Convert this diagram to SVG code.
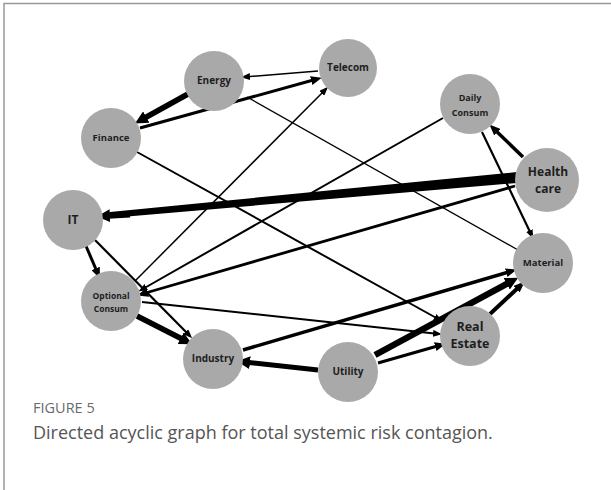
<svg xmlns="http://www.w3.org/2000/svg" width="611" height="490" viewBox="0 0 611 490">
<style>
.e{stroke:#000;fill:none;stroke-linecap:butt}
.n{fill:#a9a9a9}
.t{font-family:"Open Sans","Liberation Sans",sans-serif;font-weight:bold;fill:#1e1e1e;text-anchor:middle}
.cap1{font-family:"Open Sans","Liberation Sans",sans-serif;font-size:14.5px;fill:#6a6a6a}
.cap2{font-family:"Open Sans","Liberation Sans",sans-serif;font-size:18px;fill:#555}
</style>
<defs>
<marker id="aS" markerUnits="userSpaceOnUse" markerWidth="9" markerHeight="7" refX="6" refY="3.5" orient="auto"><path d="M0,0 L9,3.5 L0,7 z" fill="#000"/></marker>
<marker id="aM" markerUnits="userSpaceOnUse" markerWidth="11" markerHeight="9" refX="6" refY="4.5" orient="auto"><path d="M0,0 L11,4.5 L0,9 z" fill="#000"/></marker>
<marker id="aL" markerUnits="userSpaceOnUse" markerWidth="13" markerHeight="13" refX="6" refY="6.5" orient="auto"><path d="M0,0 L13,6.5 L0,13 z" fill="#000"/></marker>
</defs>
<rect x="0" y="0" width="611" height="490" fill="#fff"/>
<path d="M4,490 V3.5 H611" fill="none" stroke="#999" stroke-width="1.5"/>
<g id="connectors">
<line class="e" x1="318" y1="71" x2="244" y2="77" stroke-width="1.5" marker-end="url(#aS)"/>
<line class="e" x1="140" y1="128" x2="317" y2="79" stroke-width="3" marker-end="url(#aM)"/>
<line class="e" x1="188" y1="94" x2="141" y2="120" stroke-width="5.5" marker-end="url(#aL)"/>
<line class="e" x1="247" y1="97" x2="518" y2="250" stroke-width="1.3"/>
<line class="e" x1="137" y1="152" x2="440" y2="320" stroke-width="2" marker-end="url(#aS)"/>
<polygon points="517,172 517,183 110,218 110,212" fill="#000"/>
<line class="e" x1="130" y1="214.5" x2="104" y2="216" stroke-width="6" marker-end="url(#aL)"/>
<line class="e" x1="523" y1="157" x2="493" y2="128" stroke-width="3.5" marker-end="url(#aM)"/>
<line class="e" x1="482" y1="132" x2="532" y2="236" stroke-width="2.2" marker-end="url(#aS)"/>
<line class="e" x1="443" y1="118" x2="141" y2="290" stroke-width="2" marker-end="url(#aS)"/>
<line class="e" x1="515" y1="186" x2="142" y2="294" stroke-width="2.8" marker-end="url(#aM)"/>
<line class="e" x1="135" y1="281" x2="326" y2="89" stroke-width="1.5" marker-end="url(#aS)"/>
<line class="e" x1="142" y1="302" x2="439" y2="334" stroke-width="2" marker-end="url(#aS)"/>
<line class="e" x1="137" y1="316" x2="186" y2="341" stroke-width="5.5" marker-end="url(#aL)"/>
<line class="e" x1="86" y1="246" x2="98" y2="274" stroke-width="3" marker-end="url(#aM)"/>
<line class="e" x1="95" y1="240" x2="190" y2="336" stroke-width="2.2" marker-end="url(#aS)"/>
<line class="e" x1="318" y1="370" x2="244" y2="362" stroke-width="5" marker-end="url(#aL)"/>
<line class="e" x1="375" y1="355" x2="512" y2="281" stroke-width="6.5" marker-end="url(#aL)"/>
<line class="e" x1="378" y1="363" x2="441" y2="345" stroke-width="3" marker-end="url(#aM)"/>
<line class="e" x1="490" y1="314" x2="521" y2="285" stroke-width="4" marker-end="url(#aM)"/>
<line class="e" x1="243" y1="350" x2="512" y2="271" stroke-width="3.5" marker-end="url(#aM)"/>
</g>
<g id="energy"><circle class="n" cx="214" cy="81" r="30"/><text class="t" x="214" y="84" font-size="10">Energy</text></g>
<g id="telecom"><circle class="n" cx="348" cy="68" r="29"/><text class="t" x="348" y="71" font-size="10">Telecom</text></g>
<g id="finance"><circle class="n" cx="111" cy="138" r="30"/><text class="t" x="111" y="141" font-size="9.5">Finance</text></g>
<g id="daily"><circle class="n" cx="470" cy="104" r="30"/><text class="t" x="470" y="101" font-size="9">Daily</text><text class="t" x="470" y="116" font-size="9">Consum</text></g>
<g id="health"><circle class="n" cx="547" cy="180" r="32"/><text class="t" x="548" y="176" font-size="12">Health</text><text class="t" x="548" y="193" font-size="12">care</text></g>
<g id="it"><circle class="n" cx="73" cy="220" r="30"/><text class="t" x="73" y="224" font-size="12">IT</text></g>
<g id="material"><circle class="n" cx="543" cy="263" r="30"/><text class="t" x="543" y="266" font-size="9.5">Material</text></g>
<g id="optional"><circle class="n" cx="111" cy="301" r="30"/><text class="t" x="111" y="299" font-size="8.5">Optional</text><text class="t" x="111" y="312" font-size="8.5">Consum</text></g>
<g id="realestate"><circle class="n" cx="470" cy="336" r="30"/><text class="t" x="470" y="331" font-size="12.5">Real</text><text class="t" x="470" y="348" font-size="12.5">Estate</text></g>
<g id="industry"><circle class="n" cx="213" cy="359" r="30"/><text class="t" x="213" y="362" font-size="10">Industry</text></g>
<g id="utility"><circle class="n" cx="348" cy="372" r="30"/><text class="t" x="348" y="375" font-size="10">Utility</text></g>
<text class="cap1" x="33" y="413">FIGURE 5</text>
<text class="cap2" x="33" y="439">Directed acyclic graph for total systemic risk contagion.</text>
</svg>
